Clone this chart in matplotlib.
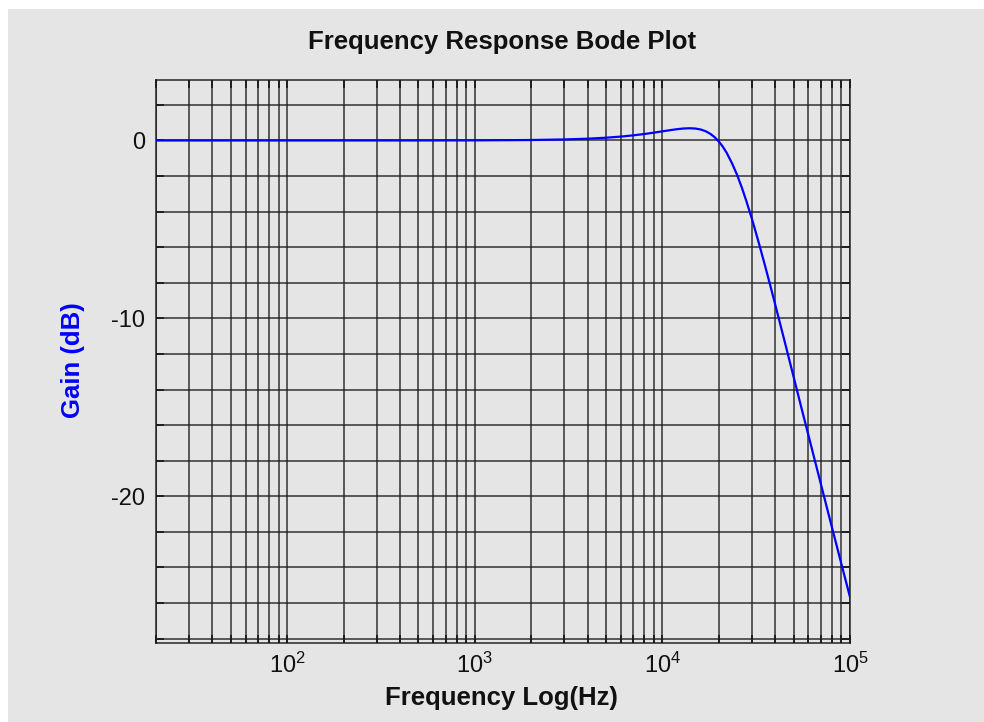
import matplotlib
matplotlib.use("Agg")
import matplotlib.pyplot as plt
from matplotlib.patches import Rectangle
from matplotlib.ticker import LogLocator, MultipleLocator, NullFormatter

# frequency response
freq_hz = [20, 100, 500, 1000, 2000, 3000, 4000, 5000, 6000, 7000, 8000, 9000,
           10000, 11000, 12000, 13000, 14000, 15000, 16000, 17000, 18000, 19000,
           20000, 21000, 22000, 23500, 25000, 26500, 28000, 30000, 32500, 35000,
           37500, 40000, 45000, 50000, 55000, 60000, 70000, 80000, 90000, 100000]
gain_db = [0.0, 0.0, 0.002, 0.007, 0.026, 0.058, 0.10, 0.155, 0.218, 0.289, 0.363, 0.44,
           0.514, 0.581, 0.636, 0.674, 0.688, 0.671, 0.617, 0.521, 0.377, 0.184,
           -0.06, -0.35, -0.69, -1.28, -1.93, -2.64, -3.39, -4.40, -5.68, -6.92,
           -8.11, -9.25, -11.36, -13.27, -15.0, -16.56, -19.33, -21.72, -23.81, -25.67]

y_ticks = [-20, -10, 0]

bg = "#e5e5e5"
plt.rcParams["font.family"] = ["Liberation Sans", "DejaVu Sans"]
plt.rcParams["mathtext.fontset"] = "custom"
plt.rcParams["mathtext.rm"] = "Liberation Sans"
plt.rcParams["mathtext.it"] = "Liberation Sans"
plt.rcParams["axes.unicode_minus"] = False

fig = plt.figure(figsize=(9.84, 7.22), dpi=100, facecolor="white")
fig.patches.append(Rectangle((8 / 984, 0), 1, 1 - 9 / 722, transform=fig.transFigure,
                             facecolor=bg, edgecolor="none", zorder=-10))

ax = fig.add_axes([156 / 984, 1 - 643 / 722, 694 / 984, 563 / 722])
ax.set_facecolor(bg)

ax.plot(freq_hz, gain_db, color="#0000ff", linewidth=1.6, zorder=5)

ax.set_xscale("log")
ax.set_xlim(20, 1e5)
ax.set_ylim(-28.25, 3.4)

ax.xaxis.set_major_locator(LogLocator(base=10))
ax.xaxis.set_minor_locator(LogLocator(base=10, subs=range(2, 10)))
ax.xaxis.set_minor_formatter(NullFormatter())
ax.set_yticks(y_ticks)
ax.yaxis.set_minor_locator(MultipleLocator(2))

gcol = "#1a1a1a"
ax.grid(True, which="both", color=gcol, linewidth=1.3, alpha=0.75)
for s in ax.spines.values():
    s.set_color(gcol)
    s.set_linewidth(1.3)
    s.set_alpha(0.8)

ax.tick_params(which="both", direction="in", top=True, right=True,
               color=gcol, width=1.3, length=6)
ax.tick_params(axis="y", labelsize=17, pad=8, labelcolor="#111111")
ax.tick_params(axis="x", labelsize=17, pad=7, labelcolor="#111111")

fig.text(502 / 984, 1 - 42 / 722, "Frequency Response Bode Plot", ha="center",
         va="center", fontsize=18.5, fontweight="bold", color="#111111")
fig.text(501 / 984, 1 - 698 / 722, "Frequency Log(Hz)", ha="center",
         va="center", fontsize=18.5, fontweight="bold", color="#111111")
fig.text(73 / 984, 1 - 360 / 722, "Gain (dB)", ha="center", va="center",
         rotation=90, fontsize=18.5, fontweight="bold", color="#0000ff")

fig.savefig("out.png", dpi=100, facecolor="white")
